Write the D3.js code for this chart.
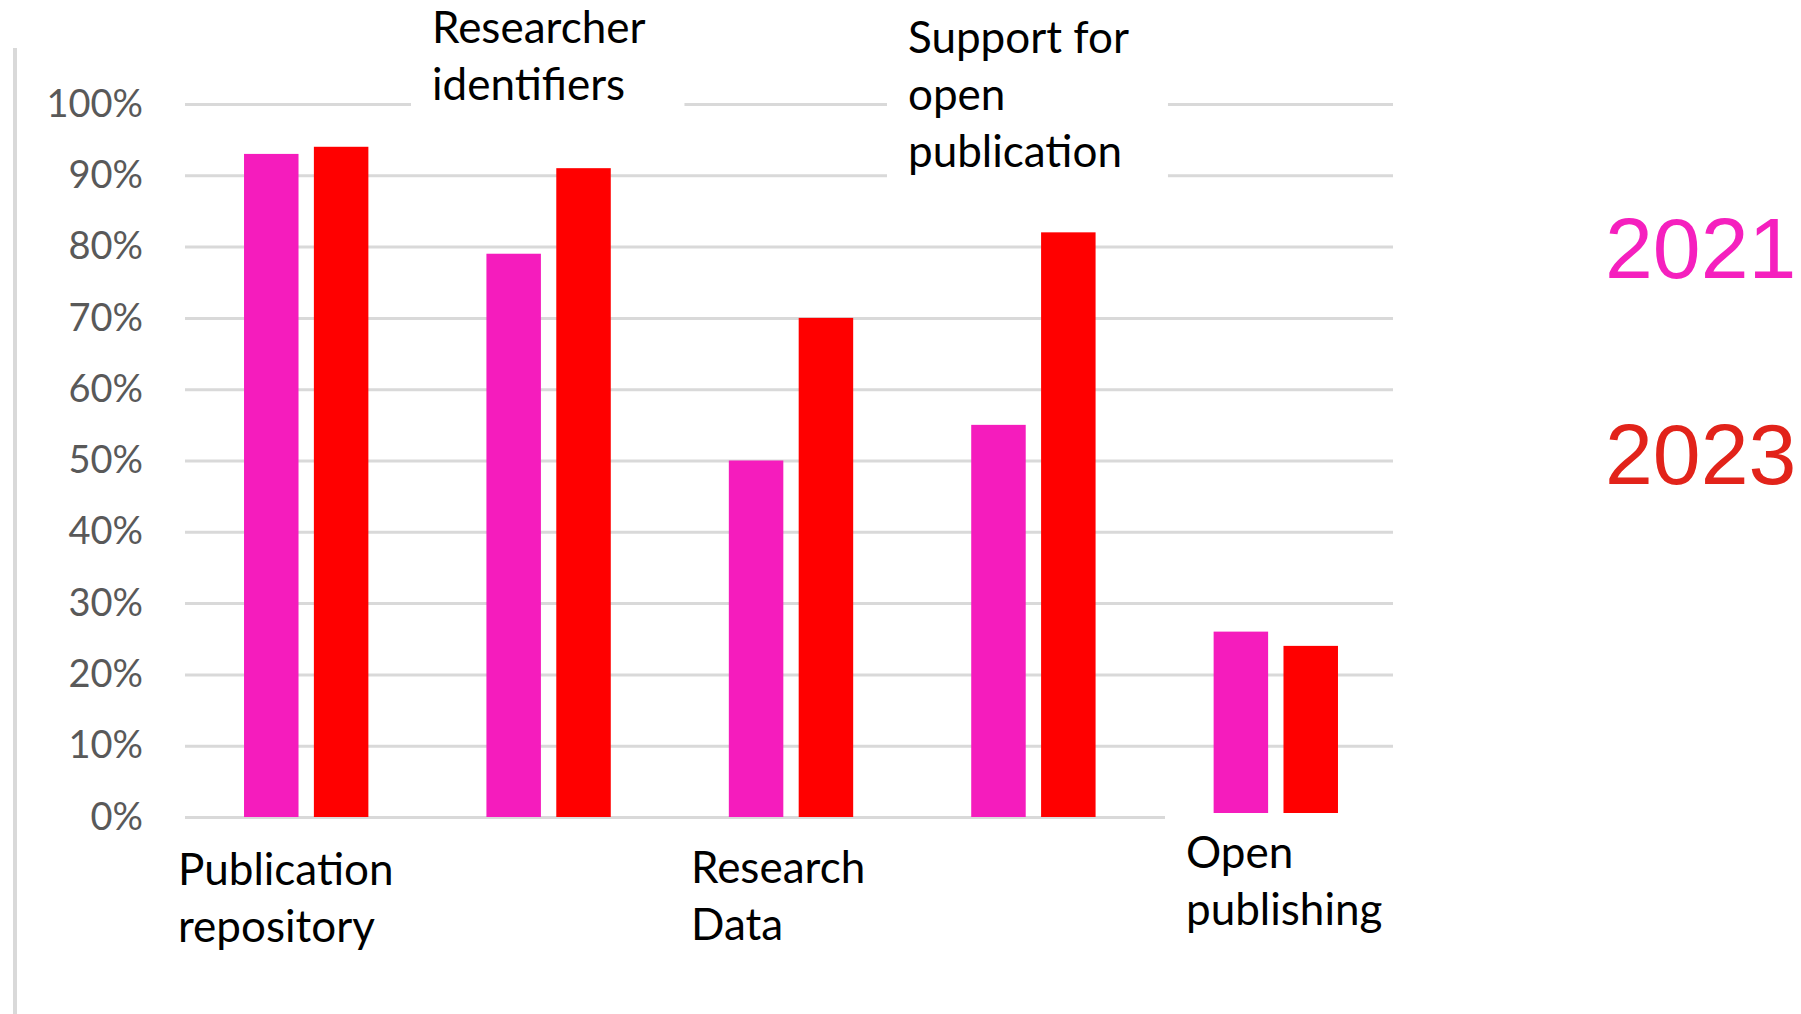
<!DOCTYPE html>
<html>
<head>
<meta charset="utf-8">
<script src="https://cdn.jsdelivr.net/npm/d3@7"></script>
<style>
  html, body { margin: 0; padding: 0; background: #fff; }
  svg { display: block; }
</style>
</head>
<body>
<svg id="chart"></svg>
<script>
// data
const categories = ["Publication repository", "Researcher identifiers", "Research Data", "Support for open publication", "Open publishing"];
const labelLines = [["Publication", "repository"], ["Researcher", "identifiers"], ["Research", "Data"], ["Support for", "open", "publication"], ["Open", "publishing"]];
const years = ["2021", "2023"];
const values2021 = [0.93, 0.79, 0.50, 0.55, 0.26];
const values2023 = [0.94, 0.91, 0.70, 0.82, 0.24];
const yTicks = [0, 0.1, 0.2, 0.3, 0.4, 0.5, 0.6, 0.7, 0.8, 0.9, 1.0];

(function() {
  const width = 1801;
  const height = 1014;

  // where the category labels sit (text baseline of first line)
  const labelPos = [
    {x: 178, y: 885},
    {x: 432, y: 43},
    {x: 691, y: 883},
    {x: 908, y: 53},
    {x: 1186, y: 868}
  ];

  const colors = {"2021": "#f51cbd", "2023": "#ff0000"};
  const legendColors = {"2021": "#f520be", "2023": "#e2231a"};

  const svg = d3.select("#chart")
      .attr("width", width)
      .attr("height", height);

  const x0 = d3.scaleBand()
      .domain(categories)
      .range([185, 1397])
      .paddingInner(0.487)
      .paddingOuter(0.2435);

  const x1 = d3.scaleBand()
      .domain(years)
      .range([0, x0.bandwidth()])
      .paddingInner(0.22);

  const y = d3.scaleLinear()
      .domain([0, 1])
      .range([817, 104]);

  // gridlines + tick labels
  const axis = svg.append("g")
      .attr("transform", "translate(185,0)")
      .call(d3.axisLeft(y)
        .tickValues(yTicks)
        .tickFormat(d3.format(".0%"))
        .tickSizeInner(-1208)
        .tickSizeOuter(0)
        .tickPadding(42));
  axis.select(".domain").remove();
  axis.selectAll(".tick line")
      .attr("stroke", "#d9d9d9")
      .attr("stroke-width", 3);
  axis.selectAll(".tick text")
      .attr("fill", "#595959")
      .style("font-family", "Lato, 'Open Sans', sans-serif")
      .style("font-size", "38px");

  // bars
  const rows = categories.map(function(c, i) {
    return {cat: c, vals: [{year: "2021", v: values2021[i]}, {year: "2023", v: values2023[i]}]};
  });

  const groups = svg.append("g").selectAll("g")
      .data(rows)
      .enter()
      .append("g")
      .attr("transform", function(d) { return "translate(" + x0(d.cat) + ",0)"; });

  groups.selectAll("rect")
      .data(function(d) { return d.vals; })
      .enter()
      .append("rect")
      .attr("x", function(d) { return x1(d.year); })
      .attr("y", function(d) { return y(d.v); })
      .attr("width", x1.bandwidth())
      .attr("height", function(d) { return y(0) - y(d.v); })
      .attr("fill", function(d) { return colors[d.year]; });

  // category labels on white boxes
  const labels = svg.append("g");
  categories.forEach(function(c, i) {
    const g = labels.append("g");
    const box = g.append("rect").attr("fill", "#fff");
    const t = g.append("text")
        .attr("x", labelPos[i].x)
        .attr("y", labelPos[i].y)
        .attr("fill", "#000")
        .style("font-family", "Lato, 'Open Sans', sans-serif")
        .style("font-size", "44px");
    labelLines[i].forEach(function(line, j) {
      t.append("tspan")
          .attr("x", labelPos[i].x)
          .attr("dy", j == 0 ? 0 : 57)
          .text(line);
    });
    const bb = t.node().getBBox();
    box.attr("x", bb.x - 21)
        .attr("y", bb.y - 12)
        .attr("width", bb.width + 60)
        .attr("height", bb.height + 22);
  });

  // left border line
  svg.append("line")
      .attr("x1", 15).attr("x2", 15)
      .attr("y1", 48).attr("y2", height)
      .attr("stroke", "#d9d9d9")
      .attr("stroke-width", 4);

  // legend
  const legendY = {"2021": 278, "2023": 484};
  svg.append("g").selectAll("text")
      .data(years)
      .enter()
      .append("text")
      .attr("x", 1605)
      .attr("y", function(d) { return legendY[d]; })
      .attr("fill", function(d) { return legendColors[d]; })
      .style("font-family", "'Liberation Sans', Arial, sans-serif")
      .style("font-size", "86px")
      .text(function(d) { return d; });
})();
</script>
</body>
</html>
